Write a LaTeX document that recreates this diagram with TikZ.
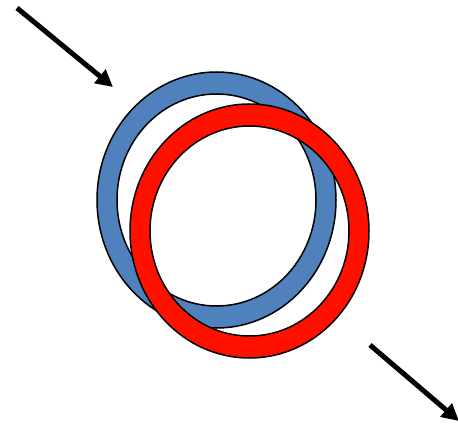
\documentclass[tikz,border=0pt]{standalone}
\usetikzlibrary{arrows.meta}
\definecolor{ringblue}{HTML}{4F81BD}
\definecolor{ringred}{HTML}{FF1100}
\tikzset{
  ringline/.style={draw=black, line width=1.5pt, even odd rule},
  bigarrow/.style={line width=5pt, -{Triangle[length=17pt,width=17pt]}}
}
\begin{document}
\begin{tikzpicture}[x=1pt,y=-1pt]
\useasboundingbox (0,0) rectangle (458,425);
% blue ring
\path[ringline, fill=ringblue] (216.5,200) ellipse [x radius=119.5, y radius=128]
      (216.5,200) ellipse [x radius=99.5, y radius=106];
% red ring
\path[ringline, fill=ringred] (249.5,231) ellipse [x radius=119.5, y radius=127]
      (249.5,231) ellipse [x radius=99.5, y radius=105];
% arrows
\coordinate (a1s) at (17,8);
\coordinate (a1e) at (113,87);
\coordinate (a2s) at (370,345);
\coordinate (a2e) at (459,421);
\draw[bigarrow] (a1s) -- (a1e);
\draw[bigarrow] (a2s) -- (a2e);
\end{tikzpicture}
\end{document}
